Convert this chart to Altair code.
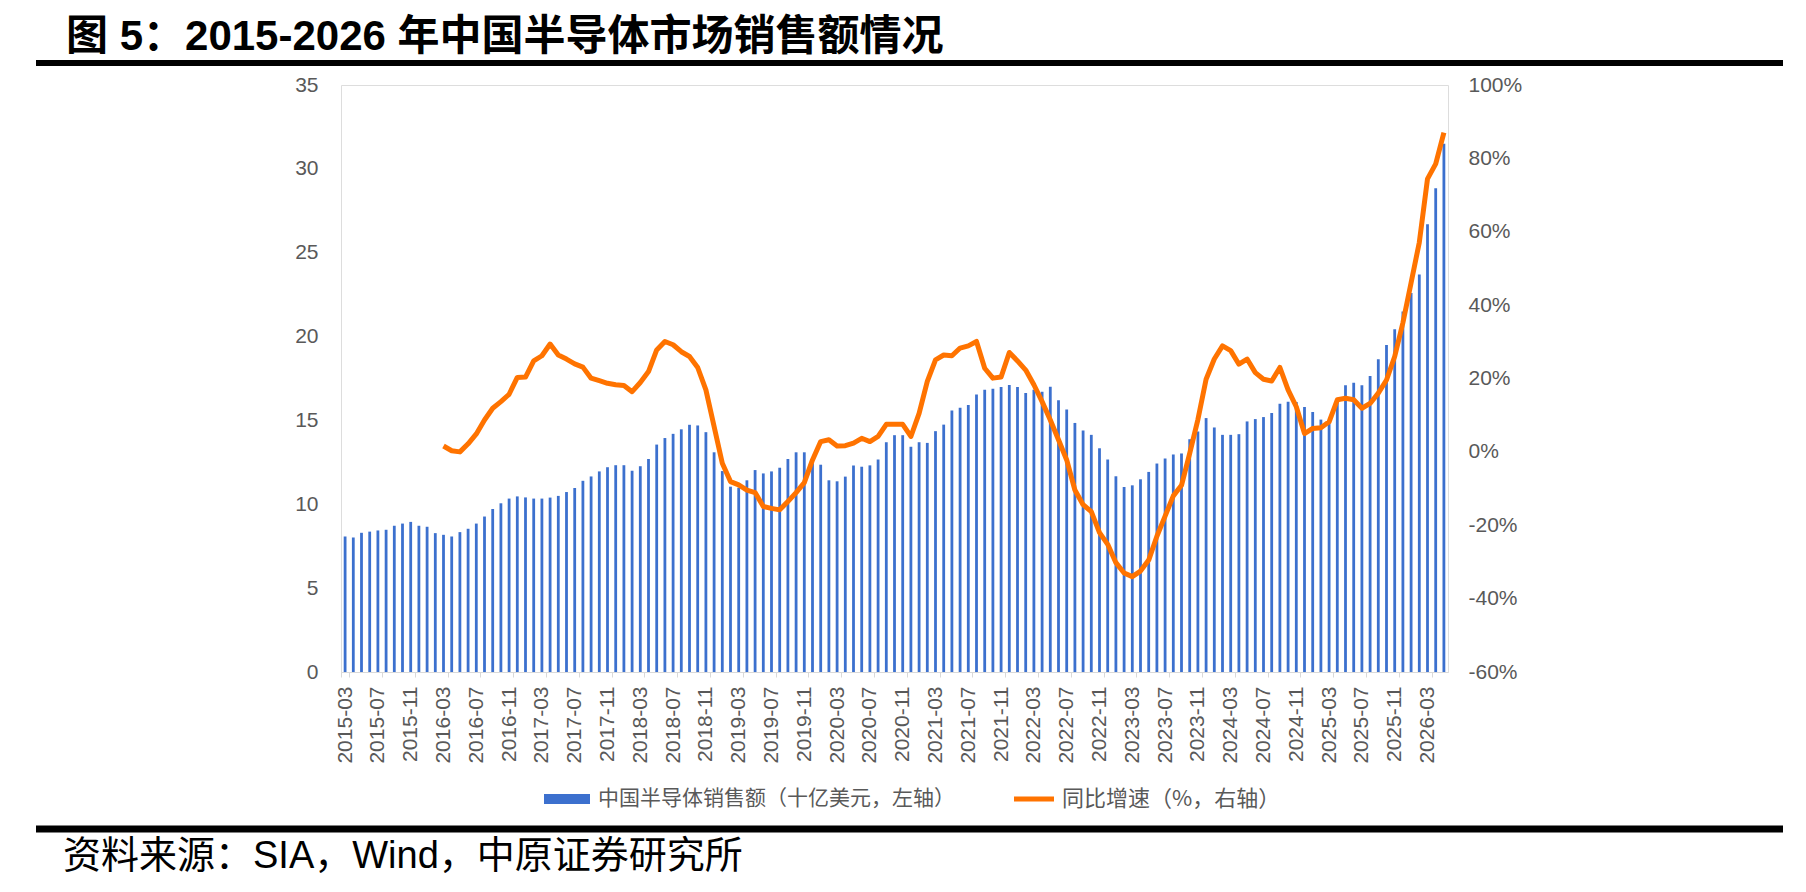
import altair as alt
import pandas as pd

# ---- data -------------------------------------------------------------
months = []
for yr in range(2015, 2027):
    for mo in range(1, 13):
        if (yr == 2015 and mo < 3) or (yr == 2026 and mo > 5):
            continue
        months.append(f"{yr}-{mo:02d}")

sales = [
    8.08, 8.02, 8.30, 8.37, 8.44, 8.48, 8.72, 8.85, 8.95, 8.72,
    8.66, 8.28, 8.18, 8.08, 8.34, 8.54, 8.85, 9.27, 9.72, 10.06,
    10.34, 10.47, 10.41, 10.34, 10.34, 10.40, 10.50, 10.73, 10.97, 11.40,
    11.66, 11.96, 12.21, 12.33, 12.33, 12.00, 12.27, 12.70, 13.56, 13.95,
    14.20, 14.47, 14.74, 14.70, 14.30, 13.10, 11.98, 11.05, 10.99, 11.43,
    12.04, 11.84, 11.96, 12.18, 12.70, 13.10, 13.10, 12.45, 12.36, 11.43,
    11.37, 11.65, 12.32, 12.24, 12.32, 12.67, 13.70, 14.12, 14.12, 13.43,
    13.70, 13.66, 14.36, 14.75, 15.59, 15.75, 15.92, 16.54, 16.83, 16.89,
    16.99, 17.11, 17.00, 16.64, 16.83, 16.71, 17.01, 16.20, 15.65, 14.85,
    14.40, 14.14, 13.34, 12.67, 11.67, 11.03, 11.13, 11.49, 11.93, 12.43,
    12.73, 12.97, 13.03, 13.88, 14.34, 15.14, 14.58, 14.14, 14.14, 14.18,
    14.94, 15.08, 15.20, 15.44, 16.00, 16.12, 16.10, 15.80, 15.50, 15.05,
    14.90, 16.30, 17.10, 17.25, 17.10, 17.65, 18.65, 19.50, 20.44, 21.50,
    22.60, 23.70, 26.70, 28.85, 31.50,
]

yoy = [None] * 12 + [
    1.6, 0.3, 0.0, 2.2, 4.9, 8.7, 11.9, 13.7,
    15.7, 20.3, 20.4, 24.8, 26.2, 29.4, 26.4, 25.3, 24.0, 23.1,
    20.1, 19.4, 18.7, 18.3, 18.1, 16.4, 18.9, 21.9, 27.8, 30.1,
    29.2, 27.3, 26.0, 23.0, 16.9, 6.9, -3.1, -8.1, -9.0, -10.4,
    -11.1, -14.9, -15.4, -15.8, -13.5, -11.1, -8.4, -2.2, 2.8, 3.3,
    1.6, 1.7, 2.4, 3.7, 2.8, 4.2, 7.5, 7.5, 7.5, 4.2,
    10.5, 19.2, 25.1, 26.4, 26.2, 28.3, 28.9, 30.1, 22.8, 20.1,
    20.4, 27.1, 24.8, 22.3, 18.3, 13.7, 8.7, 3.3, -2.2, -10.4,
    -14.4, -16.3, -22.0, -25.2, -30.2, -33.0, -34.0, -32.5, -29.5, -23.0,
    -17.5, -12.0, -9.1, -0.4, 8.8, 19.8, 25.3, 28.9, 27.6, 23.9,
    25.3, 21.6, 19.8, 19.3, 23.0, 16.9, 12.3, 5.0, 6.4, 6.6,
    8.2, 14.2, 14.6, 14.2, 11.9, 13.2, 16.0, 19.6, 26.0, 35.2,
    46.1, 57.1, 74.4, 78.5, 87.0,
]

left_ticks = [0, 5, 10, 15, 20, 25, 30, 35]
right_ticks = [-60, -40, -20, 0, 20, 40, 60, 80, 100]
x_tick_labels = months[::4]

title_text = "图 5：2015-2026 年中国半导体市场销售额情况"
source_text = "资料来源：SIA，Wind，中原证券研究所"
bar_name = "中国半导体销售额（十亿美元，左轴）"
line_name = "同比增速（%，右轴）"

df = pd.DataFrame({"month": months, "sales": sales, "yoy": yoy})

# ---- style ------------------------------------------------------------
BLUE = "#3C70CE"
ORANGE = "#FF7300"
GRAY = "#595959"
LATIN = "Liberation Sans, Noto Sans CJK SC"
CJK = "Noto Sans CJK SC"

W, H = 1107, 587

x_enc = alt.X(
    "month:N",
    sort=months,
    scale=alt.Scale(domain=months, paddingInner=0, paddingOuter=0),
    axis=alt.Axis(
        title=None,
        values=x_tick_labels,
        labelAngle=-90,
        labelFont=LATIN,
        labelFontSize=21,
        labelColor=GRAY,
        labelPadding=9,
        tickBand="extent",
        tickSize=5,
        tickColor="#D9D9D9",
        domainColor="#D9D9D9",
        grid=False,
    ),
)

bars = alt.Chart(df).mark_bar(size=2.8, color=BLUE).encode(
    x=x_enc,
    y=alt.Y(
        "sales:Q",
        scale=alt.Scale(domain=[0, 35], nice=False, zero=True),
        axis=alt.Axis(
            title=None,
            values=left_ticks,
            orient="left",
            domain=False,
            ticks=False,
            grid=False,
            labelFont=LATIN,
            labelFontSize=21,
            labelColor=GRAY,
            labelPadding=23,
        ),
    ),
)

line = alt.Chart(df).mark_line(color=ORANGE, strokeWidth=5, strokeJoin="round").encode(
    x=alt.X("month:N", sort=months),
    y=alt.Y(
        "yoy:Q",
        scale=alt.Scale(domain=[-60, 100], nice=False, zero=False),
        axis=alt.Axis(
            title=None,
            values=right_ticks,
            orient="right",
            domain=False,
            ticks=False,
            grid=False,
            labelFont=LATIN,
            labelFontSize=21,
            labelColor=GRAY,
            labelPadding=20,
            labelExpr="datum.value + '%'",
        ),
    ),
)

one = alt.Data(values=[{"k": 1}])

title = alt.Chart(one).mark_text(
    text=title_text, align="left", baseline="middle", font=LATIN,
    fontSize=42, fontWeight="bold", color="black",
).encode(x=alt.value(-275), y=alt.value(-48))

top_rule = alt.Chart(one).mark_rule(color="black", strokeWidth=6).encode(
    x=alt.value(-305), x2=alt.value(1442), y=alt.value(-22)
)
bottom_rule = alt.Chart(one).mark_rule(color="black", strokeWidth=7).encode(
    x=alt.value(-305), x2=alt.value(1442), y=alt.value(744)
)

source = alt.Chart(one).mark_text(
    text=source_text, align="left", baseline="middle", font=LATIN,
    fontSize=38, color="black",
).encode(x=alt.value(-278), y=alt.value(772))

leg_rect = alt.Chart(one).mark_rect(color=BLUE).encode(
    x=alt.value(203), x2=alt.value(249), y=alt.value(709), y2=alt.value(719)
)
leg_text1 = alt.Chart(one).mark_text(
    text=bar_name, align="left", baseline="middle", font=CJK,
    fontSize=21, color=GRAY,
).encode(x=alt.value(257), y=alt.value(714))
leg_line = alt.Chart(one).mark_rule(color=ORANGE, strokeWidth=5).encode(
    x=alt.value(673), x2=alt.value(713), y=alt.value(714)
)
leg_text2 = alt.Chart(one).mark_text(
    text=line_name, align="left", baseline="middle", font=CJK,
    fontSize=22, color=GRAY,
).encode(x=alt.value(721), y=alt.value(714))

chart = (
    alt.layer(
        bars, line, title, top_rule, bottom_rule, source,
        leg_rect, leg_text1, leg_line, leg_text2,
    )
    .resolve_scale(y="independent")
    .properties(
        width=W,
        height=H,
        autosize=alt.AutoSizeParams(type="none"),
        padding={"left": 333, "top": 77, "right": 350, "bottom": 210},
    )
    .configure_view(stroke=None)
    .configure(background="white")
)

chart.save("out.html", embed_options={"renderer": "svg", "actions": False})
